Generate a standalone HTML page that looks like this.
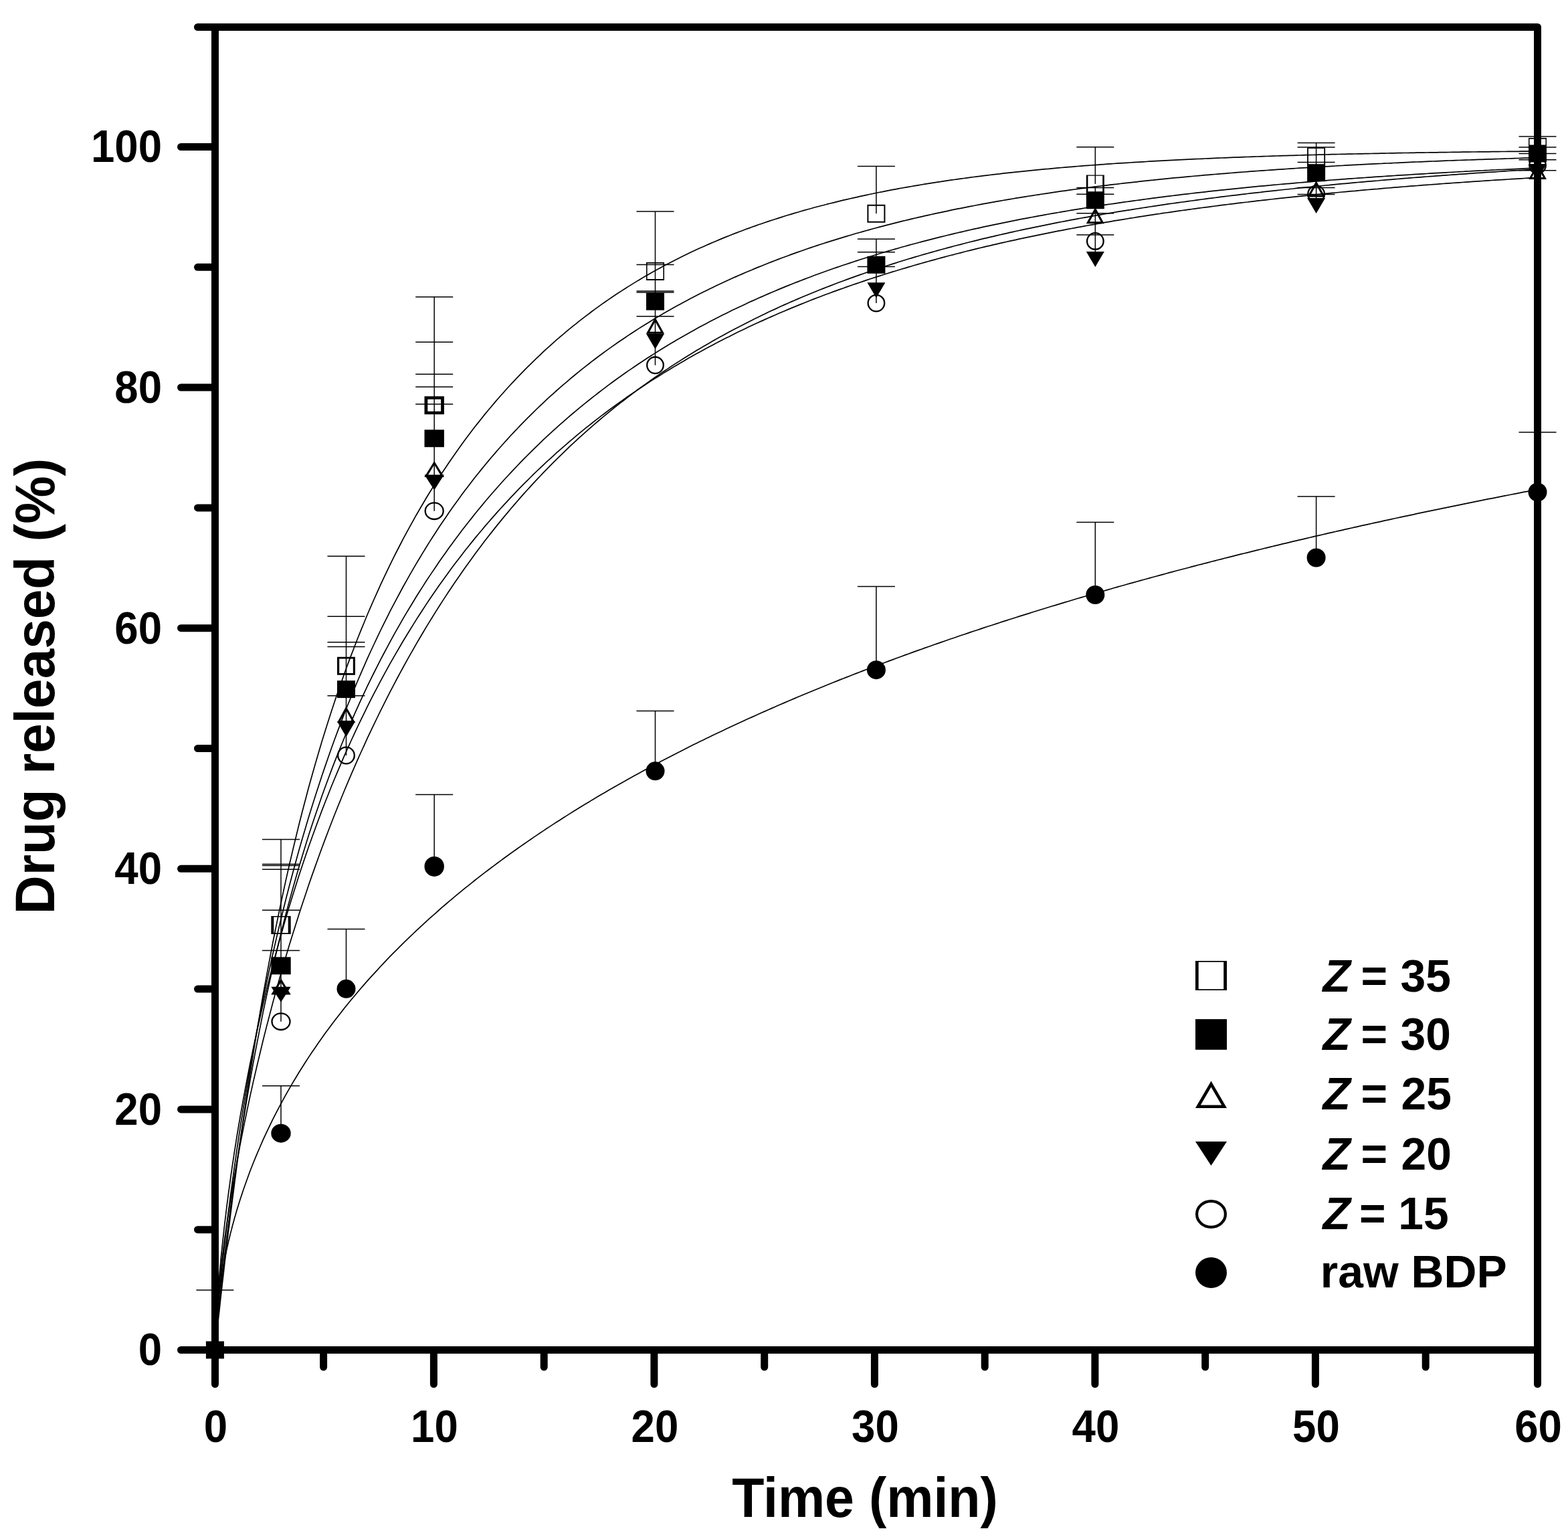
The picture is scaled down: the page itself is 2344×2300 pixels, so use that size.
<!DOCTYPE html>
<html><head><meta charset="utf-8"><style>html,body{margin:0;padding:0;background:#fff}svg{display:block}</style></head>
<body>
<svg width="2344" height="2300" viewBox="0 0 2344 2300">
<rect width="2344" height="2300" fill="#fff"/>
<g fill="none" stroke="#000" stroke-width="1.70" stroke-linejoin="round">
<path d="M322.1,2011.5 L322.9,2003.9 L323.7,1996.2 L324.5,1988.6 L325.4,1981.0 L326.2,1973.4 L327.0,1965.9 L327.9,1958.4 L328.7,1950.9 L329.5,1943.5 L330.3,1936.1 L331.2,1928.7 L332.0,1921.4 L332.8,1914.2 L333.7,1906.9 L334.5,1899.8 L335.3,1892.6 L336.1,1885.5 L337.0,1878.5 L337.8,1871.5 L338.6,1864.5 L339.4,1857.6 L340.3,1850.7 L341.1,1843.9 L341.9,1837.1 L342.8,1830.3 L343.6,1823.6 L344.4,1816.9 L345.2,1810.3 L346.1,1803.7 L346.9,1797.2 L347.7,1790.7 L348.6,1784.2 L349.4,1777.8 L350.2,1771.4 L351.0,1765.0 L351.9,1758.7 L352.7,1752.4 L353.5,1746.2 L354.3,1740.0 L359.2,1704.3 L364.1,1669.9 L369.0,1636.6 L373.8,1604.6 L378.7,1573.6 L383.6,1543.7 L388.5,1514.9 L393.3,1486.9 L398.2,1459.9 L403.1,1433.8 L407.9,1408.5 L412.8,1384.1 L417.7,1360.4 L422.6,1337.4 L427.4,1315.1 L432.3,1293.5 L437.2,1272.6 L442.1,1252.2 L446.9,1232.5 L451.8,1213.3 L456.7,1194.7 L461.5,1176.5 L466.4,1158.9 L471.3,1141.7 L476.2,1125.0 L481.0,1108.8 L485.9,1092.9 L490.8,1077.5 L495.6,1062.4 L500.5,1047.7 L505.4,1033.4 L510.3,1019.4 L515.1,1005.8 L520.0,992.4 L524.9,979.4 L529.8,966.7 L534.6,954.2 L539.5,942.1 L544.4,930.2 L549.2,918.5 L554.1,907.1 L559.0,896.0 L563.9,885.1 L568.7,874.4 L573.6,863.9 L578.5,853.6 L583.3,843.6 L588.2,833.7 L593.1,824.0 L598.0,814.5 L602.8,805.2 L607.7,796.1 L612.6,787.2 L617.5,778.4 L622.3,769.7 L627.2,761.3 L632.1,753.0 L636.9,744.8 L641.8,736.8 L646.7,728.9 L651.6,721.1 L656.4,713.5 L661.3,706.0 L666.2,698.7 L671.0,691.5 L675.9,684.4 L680.8,677.4 L685.7,670.5 L690.5,663.7 L695.4,657.1 L700.3,650.6 L705.2,644.1 L710.0,637.8 L714.9,631.6 L719.8,625.5 L724.6,619.4 L729.5,613.5 L734.4,607.7 L739.3,601.9 L744.1,596.3 L749.0,590.7 L753.9,585.2 L758.8,579.8 L763.6,574.5 L768.5,569.3 L773.4,564.2 L778.2,559.1 L783.1,554.1 L788.0,549.2 L792.9,544.3 L797.7,539.6 L802.6,534.9 L807.5,530.3 L812.3,525.7 L817.2,521.2 L822.1,516.8 L827.0,512.4 L831.8,508.2 L836.7,503.9 L841.6,499.8 L846.5,495.7 L851.3,491.7 L856.2,487.7 L861.1,483.8 L865.9,479.9 L870.8,476.1 L875.7,472.4 L880.6,468.7 L885.4,465.0 L890.3,461.4 L895.2,457.9 L900.0,454.4 L904.9,451.0 L909.8,447.6 L914.7,444.3 L919.5,441.0 L924.4,437.8 L929.3,434.6 L934.2,431.5 L939.0,428.4 L943.9,425.4 L948.8,422.4 L953.6,419.4 L958.5,416.5 L963.4,413.6 L968.3,410.8 L973.1,408.0 L978.0,405.3 L982.9,402.6 L987.7,399.9 L992.6,397.3 L997.5,394.7 L1002.4,392.2 L1007.2,389.7 L1012.1,387.2 L1017.0,384.7 L1021.9,382.3 L1026.7,380.0 L1031.6,377.6 L1036.5,375.3 L1041.3,373.1 L1046.2,370.8 L1051.1,368.7 L1056.0,366.5 L1060.8,364.4 L1065.7,362.2 L1070.6,360.2 L1075.5,358.1 L1080.3,356.1 L1085.2,354.1 L1090.1,352.2 L1094.9,350.3 L1099.8,348.4 L1104.7,346.5 L1109.6,344.7 L1114.4,342.8 L1119.3,341.1 L1124.2,339.3 L1129.0,337.6 L1133.9,335.8 L1138.8,334.2 L1143.7,332.5 L1148.5,330.9 L1153.4,329.3 L1158.3,327.7 L1163.2,326.1 L1168.0,324.6 L1172.9,323.0 L1177.8,321.5 L1182.6,320.1 L1187.5,318.6 L1192.4,317.2 L1197.3,315.8 L1202.1,314.4 L1207.0,313.0 L1211.9,311.7 L1216.7,310.3 L1221.6,309.0 L1226.5,307.7 L1231.4,306.5 L1236.2,305.2 L1241.1,304.0 L1246.0,302.8 L1250.9,301.6 L1255.7,300.4 L1260.6,299.2 L1265.5,298.1 L1270.3,297.0 L1275.2,295.9 L1280.1,294.8 L1285.0,293.7 L1289.8,292.6 L1294.7,291.6 L1299.6,290.5 L1304.4,289.5 L1309.3,288.5 L1314.2,287.5 L1319.1,286.6 L1323.9,285.6 L1328.8,284.7 L1333.7,283.7 L1338.6,282.8 L1343.4,281.9 L1348.3,281.0 L1353.2,280.2 L1358.0,279.3 L1362.9,278.5 L1367.8,277.6 L1372.7,276.8 L1377.5,276.0 L1382.4,275.2 L1387.3,274.4 L1392.2,273.6 L1397.0,272.9 L1401.9,272.1 L1406.8,271.4 L1411.6,270.6 L1416.5,269.9 L1421.4,269.2 L1426.3,268.5 L1431.1,267.8 L1436.0,267.2 L1440.9,266.5 L1445.7,265.8 L1450.6,265.2 L1455.5,264.5 L1460.4,263.9 L1465.2,263.3 L1470.1,262.7 L1475.0,262.1 L1479.9,261.5 L1484.7,260.9 L1489.6,260.3 L1494.5,259.8 L1499.3,259.2 L1504.2,258.7 L1509.1,258.1 L1514.0,257.6 L1518.8,257.1 L1523.7,256.6 L1528.6,256.1 L1533.4,255.6 L1538.3,255.1 L1543.2,254.6 L1548.1,254.1 L1552.9,253.6 L1557.8,253.2 L1562.7,252.7 L1567.6,252.3 L1572.4,251.8 L1577.3,251.4 L1582.2,250.9 L1587.0,250.5 L1591.9,250.1 L1596.8,249.7 L1601.7,249.3 L1606.5,248.9 L1611.4,248.5 L1616.3,248.1 L1621.1,247.7 L1626.0,247.4 L1630.9,247.0 L1635.8,246.6 L1640.6,246.3 L1645.5,245.9 L1650.4,245.6 L1655.3,245.2 L1660.1,244.9 L1665.0,244.5 L1669.9,244.2 L1674.7,243.9 L1679.6,243.6 L1684.5,243.3 L1689.4,243.0 L1694.2,242.7 L1699.1,242.4 L1704.0,242.1 L1708.9,241.8 L1713.7,241.5 L1718.6,241.2 L1723.5,240.9 L1728.3,240.7 L1733.2,240.4 L1738.1,240.1 L1743.0,239.9 L1747.8,239.6 L1752.7,239.4 L1757.6,239.1 L1762.4,238.9 L1767.3,238.6 L1772.2,238.4 L1777.1,238.2 L1781.9,237.9 L1786.8,237.7 L1791.7,237.5 L1796.6,237.3 L1801.4,237.0 L1806.3,236.8 L1811.2,236.6 L1816.0,236.4 L1820.9,236.2 L1825.8,236.0 L1830.7,235.8 L1835.5,235.6 L1840.4,235.4 L1845.3,235.2 L1850.1,235.1 L1855.0,234.9 L1859.9,234.7 L1864.8,234.5 L1869.6,234.3 L1874.5,234.2 L1879.4,234.0 L1884.3,233.8 L1889.1,233.7 L1894.0,233.5 L1898.9,233.3 L1903.7,233.2 L1908.6,233.0 L1913.5,232.9 L1918.4,232.7 L1923.2,232.6 L1928.1,232.4 L1933.0,232.3 L1937.8,232.2 L1942.7,232.0 L1947.6,231.9 L1952.5,231.7 L1957.3,231.6 L1962.2,231.5 L1967.1,231.4 L1972.0,231.2 L1976.8,231.1 L1981.7,231.0 L1986.6,230.9 L1991.4,230.7 L1996.3,230.6 L2001.2,230.5 L2006.1,230.4 L2010.9,230.3 L2015.8,230.2 L2020.7,230.1 L2025.6,230.0 L2030.4,229.9 L2035.3,229.8 L2040.2,229.7 L2045.0,229.6 L2049.9,229.5 L2054.8,229.4 L2059.7,229.3 L2064.5,229.2 L2069.4,229.1 L2074.3,229.0 L2079.1,228.9 L2084.0,228.8 L2088.9,228.7 L2093.8,228.6 L2098.6,228.5 L2103.5,228.5 L2108.4,228.4 L2113.3,228.3 L2118.1,228.2 L2123.0,228.1 L2127.9,228.1 L2132.7,228.0 L2137.6,227.9 L2142.5,227.8 L2147.4,227.8 L2152.2,227.7 L2157.1,227.6 L2162.0,227.6 L2166.8,227.5 L2171.7,227.4 L2176.6,227.4 L2181.5,227.3 L2186.3,227.2 L2191.2,227.2 L2196.1,227.1 L2201.0,227.0 L2205.8,227.0 L2210.7,226.9 L2215.6,226.9 L2220.4,226.8 L2225.3,226.8 L2230.2,226.7 L2235.1,226.6 L2239.9,226.6 L2244.8,226.5 L2249.7,226.5 L2254.5,226.4 L2259.4,226.4 L2264.3,226.3 L2269.2,226.3 L2274.0,226.2 L2278.9,226.2 L2283.8,226.1 L2288.7,226.1 L2293.5,226.0 L2298.4,226.0"/>
<path d="M322.1,2004.7 L322.9,1992.4 L323.7,1981.3 L324.5,1971.0 L325.4,1961.1 L326.2,1951.7 L327.0,1942.6 L327.9,1933.8 L328.7,1925.2 L329.5,1916.8 L330.3,1908.6 L331.2,1900.6 L332.0,1892.7 L332.8,1885.0 L333.7,1877.4 L334.5,1869.9 L335.3,1862.6 L336.1,1855.4 L337.0,1848.2 L337.8,1841.2 L338.6,1834.3 L339.4,1827.5 L340.3,1820.7 L341.1,1814.0 L341.9,1807.5 L342.8,1800.9 L343.6,1794.5 L344.4,1788.2 L345.2,1781.9 L346.1,1775.6 L346.9,1769.5 L347.7,1763.4 L348.6,1757.3 L349.4,1751.4 L350.2,1745.4 L351.0,1739.6 L351.9,1733.8 L352.7,1728.0 L353.5,1722.3 L354.3,1716.6 L359.2,1684.4 L364.1,1653.6 L369.0,1624.1 L373.8,1595.9 L378.7,1568.8 L383.6,1542.8 L388.5,1517.6 L393.3,1493.3 L398.2,1469.9 L403.1,1447.2 L407.9,1425.2 L412.8,1403.9 L417.7,1383.2 L422.6,1363.2 L427.4,1343.7 L432.3,1324.7 L437.2,1306.3 L442.1,1288.3 L446.9,1270.8 L451.8,1253.8 L456.7,1237.2 L461.5,1221.0 L466.4,1205.2 L471.3,1189.7 L476.2,1174.7 L481.0,1159.9 L485.9,1145.6 L490.8,1131.5 L495.6,1117.7 L500.5,1104.3 L505.4,1091.1 L510.3,1078.2 L515.1,1065.6 L520.0,1053.3 L524.9,1041.2 L529.8,1029.3 L534.6,1017.7 L539.5,1006.3 L544.4,995.2 L549.2,984.2 L554.1,973.5 L559.0,963.0 L563.9,952.7 L568.7,942.5 L573.6,932.6 L578.5,922.8 L583.3,913.2 L588.2,903.8 L593.1,894.6 L598.0,885.5 L602.8,876.5 L607.7,867.8 L612.6,859.2 L617.5,850.7 L622.3,842.4 L627.2,834.2 L632.1,826.1 L636.9,818.2 L641.8,810.4 L646.7,802.8 L651.6,795.2 L656.4,787.8 L661.3,780.5 L666.2,773.4 L671.0,766.3 L675.9,759.3 L680.8,752.5 L685.7,745.8 L690.5,739.1 L695.4,732.6 L700.3,726.2 L705.2,719.8 L710.0,713.6 L714.9,707.5 L719.8,701.4 L724.6,695.5 L729.5,689.6 L734.4,683.8 L739.3,678.1 L744.1,672.5 L749.0,667.0 L753.9,661.5 L758.8,656.1 L763.6,650.8 L768.5,645.6 L773.4,640.5 L778.2,635.4 L783.1,630.4 L788.0,625.4 L792.9,620.6 L797.7,615.8 L802.6,611.0 L807.5,606.4 L812.3,601.8 L817.2,597.2 L822.1,592.7 L827.0,588.3 L831.8,584.0 L836.7,579.7 L841.6,575.4 L846.5,571.3 L851.3,567.1 L856.2,563.0 L861.1,559.0 L865.9,555.1 L870.8,551.1 L875.7,547.3 L880.6,543.5 L885.4,539.7 L890.3,536.0 L895.2,532.3 L900.0,528.7 L904.9,525.1 L909.8,521.6 L914.7,518.1 L919.5,514.7 L924.4,511.3 L929.3,508.0 L934.2,504.7 L939.0,501.4 L943.9,498.2 L948.8,495.0 L953.6,491.9 L958.5,488.8 L963.4,485.7 L968.3,482.7 L973.1,479.7 L978.0,476.7 L982.9,473.8 L987.7,470.9 L992.6,468.1 L997.5,465.3 L1002.4,462.5 L1007.2,459.8 L1012.1,457.1 L1017.0,454.4 L1021.9,451.8 L1026.7,449.2 L1031.6,446.6 L1036.5,444.0 L1041.3,441.5 L1046.2,439.1 L1051.1,436.6 L1056.0,434.2 L1060.8,431.8 L1065.7,429.4 L1070.6,427.1 L1075.5,424.8 L1080.3,422.5 L1085.2,420.2 L1090.1,418.0 L1094.9,415.8 L1099.8,413.6 L1104.7,411.5 L1109.6,409.4 L1114.4,407.3 L1119.3,405.2 L1124.2,403.2 L1129.0,401.1 L1133.9,399.1 L1138.8,397.2 L1143.7,395.2 L1148.5,393.3 L1153.4,391.4 L1158.3,389.5 L1163.2,387.6 L1168.0,385.8 L1172.9,384.0 L1177.8,382.2 L1182.6,380.4 L1187.5,378.6 L1192.4,376.9 L1197.3,375.2 L1202.1,373.5 L1207.0,371.8 L1211.9,370.1 L1216.7,368.5 L1221.6,366.9 L1226.5,365.3 L1231.4,363.7 L1236.2,362.1 L1241.1,360.6 L1246.0,359.1 L1250.9,357.6 L1255.7,356.1 L1260.6,354.6 L1265.5,353.1 L1270.3,351.7 L1275.2,350.3 L1280.1,348.8 L1285.0,347.5 L1289.8,346.1 L1294.7,344.7 L1299.6,343.4 L1304.4,342.0 L1309.3,340.7 L1314.2,339.4 L1319.1,338.1 L1323.9,336.9 L1328.8,335.6 L1333.7,334.4 L1338.6,333.1 L1343.4,331.9 L1348.3,330.7 L1353.2,329.5 L1358.0,328.4 L1362.9,327.2 L1367.8,326.0 L1372.7,324.9 L1377.5,323.8 L1382.4,322.7 L1387.3,321.6 L1392.2,320.5 L1397.0,319.4 L1401.9,318.4 L1406.8,317.3 L1411.6,316.3 L1416.5,315.3 L1421.4,314.2 L1426.3,313.2 L1431.1,312.2 L1436.0,311.3 L1440.9,310.3 L1445.7,309.3 L1450.6,308.4 L1455.5,307.5 L1460.4,306.5 L1465.2,305.6 L1470.1,304.7 L1475.0,303.8 L1479.9,302.9 L1484.7,302.1 L1489.6,301.2 L1494.5,300.3 L1499.3,299.5 L1504.2,298.6 L1509.1,297.8 L1514.0,297.0 L1518.8,296.2 L1523.7,295.4 L1528.6,294.6 L1533.4,293.8 L1538.3,293.0 L1543.2,292.3 L1548.1,291.5 L1552.9,290.8 L1557.8,290.0 L1562.7,289.3 L1567.6,288.6 L1572.4,287.8 L1577.3,287.1 L1582.2,286.4 L1587.0,285.7 L1591.9,285.1 L1596.8,284.4 L1601.7,283.7 L1606.5,283.0 L1611.4,282.4 L1616.3,281.7 L1621.1,281.1 L1626.0,280.5 L1630.9,279.8 L1635.8,279.2 L1640.6,278.6 L1645.5,278.0 L1650.4,277.4 L1655.3,276.8 L1660.1,276.2 L1665.0,275.6 L1669.9,275.1 L1674.7,274.5 L1679.6,273.9 L1684.5,273.4 L1689.4,272.8 L1694.2,272.3 L1699.1,271.8 L1704.0,271.2 L1708.9,270.7 L1713.7,270.2 L1718.6,269.7 L1723.5,269.2 L1728.3,268.6 L1733.2,268.2 L1738.1,267.7 L1743.0,267.2 L1747.8,266.7 L1752.7,266.2 L1757.6,265.7 L1762.4,265.3 L1767.3,264.8 L1772.2,264.4 L1777.1,263.9 L1781.9,263.5 L1786.8,263.0 L1791.7,262.6 L1796.6,262.2 L1801.4,261.7 L1806.3,261.3 L1811.2,260.9 L1816.0,260.5 L1820.9,260.1 L1825.8,259.7 L1830.7,259.3 L1835.5,258.9 L1840.4,258.5 L1845.3,258.1 L1850.1,257.7 L1855.0,257.3 L1859.9,257.0 L1864.8,256.6 L1869.6,256.2 L1874.5,255.9 L1879.4,255.5 L1884.3,255.2 L1889.1,254.8 L1894.0,254.5 L1898.9,254.1 L1903.7,253.8 L1908.6,253.4 L1913.5,253.1 L1918.4,252.8 L1923.2,252.5 L1928.1,252.1 L1933.0,251.8 L1937.8,251.5 L1942.7,251.2 L1947.6,250.9 L1952.5,250.6 L1957.3,250.3 L1962.2,250.0 L1967.1,249.7 L1972.0,249.4 L1976.8,249.1 L1981.7,248.8 L1986.6,248.6 L1991.4,248.3 L1996.3,248.0 L2001.2,247.7 L2006.1,247.5 L2010.9,247.2 L2015.8,246.9 L2020.7,246.7 L2025.6,246.4 L2030.4,246.2 L2035.3,245.9 L2040.2,245.7 L2045.0,245.4 L2049.9,245.2 L2054.8,244.9 L2059.7,244.7 L2064.5,244.5 L2069.4,244.2 L2074.3,244.0 L2079.1,243.8 L2084.0,243.5 L2088.9,243.3 L2093.8,243.1 L2098.6,242.9 L2103.5,242.7 L2108.4,242.4 L2113.3,242.2 L2118.1,242.0 L2123.0,241.8 L2127.9,241.6 L2132.7,241.4 L2137.6,241.2 L2142.5,241.0 L2147.4,240.8 L2152.2,240.6 L2157.1,240.4 L2162.0,240.2 L2166.8,240.0 L2171.7,239.9 L2176.6,239.7 L2181.5,239.5 L2186.3,239.3 L2191.2,239.1 L2196.1,239.0 L2201.0,238.8 L2205.8,238.6 L2210.7,238.4 L2215.6,238.3 L2220.4,238.1 L2225.3,237.9 L2230.2,237.8 L2235.1,237.6 L2239.9,237.5 L2244.8,237.3 L2249.7,237.1 L2254.5,237.0 L2259.4,236.8 L2264.3,236.7 L2269.2,236.5 L2274.0,236.4 L2278.9,236.2 L2283.8,236.1 L2288.7,236.0 L2293.5,235.8 L2298.4,235.7"/>
<path d="M322.1,2008.2 L322.9,1998.4 L323.7,1989.1 L324.5,1980.2 L325.4,1971.6 L326.2,1963.2 L327.0,1955.0 L327.9,1946.9 L328.7,1939.0 L329.5,1931.3 L330.3,1923.6 L331.2,1916.1 L332.0,1908.7 L332.8,1901.4 L333.7,1894.1 L334.5,1887.0 L335.3,1879.9 L336.1,1872.9 L337.0,1866.0 L337.8,1859.2 L338.6,1852.5 L339.4,1845.8 L340.3,1839.2 L341.1,1832.7 L341.9,1826.2 L342.8,1819.8 L343.6,1813.4 L344.4,1807.1 L345.2,1800.9 L346.1,1794.7 L346.9,1788.6 L347.7,1782.6 L348.6,1776.6 L349.4,1770.6 L350.2,1764.7 L351.0,1758.9 L351.9,1753.1 L352.7,1747.3 L353.5,1741.6 L354.3,1736.0 L359.2,1703.6 L364.1,1672.8 L369.0,1643.2 L373.8,1615.0 L378.7,1587.9 L383.6,1561.8 L388.5,1536.8 L393.3,1512.7 L398.2,1489.5 L403.1,1467.1 L407.9,1445.5 L412.8,1424.6 L417.7,1404.4 L422.6,1384.8 L427.4,1365.9 L432.3,1347.6 L437.2,1329.8 L442.1,1312.5 L446.9,1295.7 L451.8,1279.4 L456.7,1263.6 L461.5,1248.1 L466.4,1233.1 L471.3,1218.5 L476.2,1204.2 L481.0,1190.3 L485.9,1176.8 L490.8,1163.5 L495.6,1150.6 L500.5,1137.9 L505.4,1125.6 L510.3,1113.5 L515.1,1101.7 L520.0,1090.1 L524.9,1078.8 L529.8,1067.7 L534.6,1056.8 L539.5,1046.1 L544.4,1035.7 L549.2,1025.4 L554.1,1015.4 L559.0,1005.5 L563.9,995.8 L568.7,986.3 L573.6,977.0 L578.5,967.8 L583.3,958.8 L588.2,949.9 L593.1,941.2 L598.0,932.6 L602.8,924.2 L607.7,915.9 L612.6,907.7 L617.5,899.7 L622.3,891.8 L627.2,884.0 L632.1,876.4 L636.9,868.8 L641.8,861.4 L646.7,854.1 L651.6,846.9 L656.4,839.8 L661.3,832.8 L666.2,825.9 L671.0,819.1 L675.9,812.4 L680.8,805.8 L685.7,799.3 L690.5,792.8 L695.4,786.5 L700.3,780.3 L705.2,774.1 L710.0,768.0 L714.9,762.0 L719.8,756.1 L724.6,750.3 L729.5,744.5 L734.4,738.8 L739.3,733.2 L744.1,727.7 L749.0,722.2 L753.9,716.8 L758.8,711.5 L763.6,706.3 L768.5,701.1 L773.4,696.0 L778.2,690.9 L783.1,685.9 L788.0,681.0 L792.9,676.1 L797.7,671.3 L802.6,666.6 L807.5,661.9 L812.3,657.2 L817.2,652.7 L822.1,648.1 L827.0,643.7 L831.8,639.3 L836.7,634.9 L841.6,630.6 L846.5,626.3 L851.3,622.1 L856.2,618.0 L861.1,613.9 L865.9,609.8 L870.8,605.8 L875.7,601.9 L880.6,598.0 L885.4,594.1 L890.3,590.3 L895.2,586.5 L900.0,582.8 L904.9,579.1 L909.8,575.4 L914.7,571.8 L919.5,568.3 L924.4,564.7 L929.3,561.3 L934.2,557.8 L939.0,554.4 L943.9,551.1 L948.8,547.7 L953.6,544.5 L958.5,541.2 L963.4,538.0 L968.3,534.8 L973.1,531.7 L978.0,528.6 L982.9,525.5 L987.7,522.5 L992.6,519.5 L997.5,516.5 L1002.4,513.6 L1007.2,510.7 L1012.1,507.8 L1017.0,505.0 L1021.9,502.2 L1026.7,499.4 L1031.6,496.7 L1036.5,493.9 L1041.3,491.3 L1046.2,488.6 L1051.1,486.0 L1056.0,483.4 L1060.8,480.8 L1065.7,478.3 L1070.6,475.8 L1075.5,473.3 L1080.3,470.8 L1085.2,468.4 L1090.1,466.0 L1094.9,463.6 L1099.8,461.3 L1104.7,459.0 L1109.6,456.7 L1114.4,454.4 L1119.3,452.1 L1124.2,449.9 L1129.0,447.7 L1133.9,445.5 L1138.8,443.4 L1143.7,441.2 L1148.5,439.1 L1153.4,437.0 L1158.3,435.0 L1163.2,432.9 L1168.0,430.9 L1172.9,428.9 L1177.8,426.9 L1182.6,425.0 L1187.5,423.0 L1192.4,421.1 L1197.3,419.2 L1202.1,417.4 L1207.0,415.5 L1211.9,413.7 L1216.7,411.8 L1221.6,410.0 L1226.5,408.3 L1231.4,406.5 L1236.2,404.8 L1241.1,403.0 L1246.0,401.3 L1250.9,399.6 L1255.7,398.0 L1260.6,396.3 L1265.5,394.7 L1270.3,393.1 L1275.2,391.5 L1280.1,389.9 L1285.0,388.3 L1289.8,386.8 L1294.7,385.2 L1299.6,383.7 L1304.4,382.2 L1309.3,380.7 L1314.2,379.2 L1319.1,377.8 L1323.9,376.3 L1328.8,374.9 L1333.7,373.5 L1338.6,372.1 L1343.4,370.7 L1348.3,369.3 L1353.2,368.0 L1358.0,366.6 L1362.9,365.3 L1367.8,364.0 L1372.7,362.7 L1377.5,361.4 L1382.4,360.1 L1387.3,358.9 L1392.2,357.6 L1397.0,356.4 L1401.9,355.1 L1406.8,353.9 L1411.6,352.7 L1416.5,351.5 L1421.4,350.4 L1426.3,349.2 L1431.1,348.0 L1436.0,346.9 L1440.9,345.8 L1445.7,344.6 L1450.6,343.5 L1455.5,342.4 L1460.4,341.4 L1465.2,340.3 L1470.1,339.2 L1475.0,338.2 L1479.9,337.1 L1484.7,336.1 L1489.6,335.1 L1494.5,334.1 L1499.3,333.1 L1504.2,332.1 L1509.1,331.1 L1514.0,330.1 L1518.8,329.1 L1523.7,328.2 L1528.6,327.2 L1533.4,326.3 L1538.3,325.4 L1543.2,324.5 L1548.1,323.6 L1552.9,322.7 L1557.8,321.8 L1562.7,320.9 L1567.6,320.0 L1572.4,319.2 L1577.3,318.3 L1582.2,317.5 L1587.0,316.6 L1591.9,315.8 L1596.8,315.0 L1601.7,314.2 L1606.5,313.4 L1611.4,312.6 L1616.3,311.8 L1621.1,311.0 L1626.0,310.2 L1630.9,309.4 L1635.8,308.7 L1640.6,307.9 L1645.5,307.2 L1650.4,306.4 L1655.3,305.7 L1660.1,305.0 L1665.0,304.3 L1669.9,303.6 L1674.7,302.9 L1679.6,302.2 L1684.5,301.5 L1689.4,300.8 L1694.2,300.1 L1699.1,299.5 L1704.0,298.8 L1708.9,298.1 L1713.7,297.5 L1718.6,296.8 L1723.5,296.2 L1728.3,295.6 L1733.2,294.9 L1738.1,294.3 L1743.0,293.7 L1747.8,293.1 L1752.7,292.5 L1757.6,291.9 L1762.4,291.3 L1767.3,290.7 L1772.2,290.1 L1777.1,289.6 L1781.9,289.0 L1786.8,288.4 L1791.7,287.9 L1796.6,287.3 L1801.4,286.8 L1806.3,286.2 L1811.2,285.7 L1816.0,285.2 L1820.9,284.7 L1825.8,284.1 L1830.7,283.6 L1835.5,283.1 L1840.4,282.6 L1845.3,282.1 L1850.1,281.6 L1855.0,281.1 L1859.9,280.6 L1864.8,280.1 L1869.6,279.7 L1874.5,279.2 L1879.4,278.7 L1884.3,278.2 L1889.1,277.8 L1894.0,277.3 L1898.9,276.9 L1903.7,276.4 L1908.6,276.0 L1913.5,275.5 L1918.4,275.1 L1923.2,274.7 L1928.1,274.3 L1933.0,273.8 L1937.8,273.4 L1942.7,273.0 L1947.6,272.6 L1952.5,272.2 L1957.3,271.8 L1962.2,271.4 L1967.1,271.0 L1972.0,270.6 L1976.8,270.2 L1981.7,269.8 L1986.6,269.4 L1991.4,269.0 L1996.3,268.7 L2001.2,268.3 L2006.1,267.9 L2010.9,267.6 L2015.8,267.2 L2020.7,266.9 L2025.6,266.5 L2030.4,266.1 L2035.3,265.8 L2040.2,265.5 L2045.0,265.1 L2049.9,264.8 L2054.8,264.4 L2059.7,264.1 L2064.5,263.8 L2069.4,263.5 L2074.3,263.1 L2079.1,262.8 L2084.0,262.5 L2088.9,262.2 L2093.8,261.9 L2098.6,261.6 L2103.5,261.3 L2108.4,261.0 L2113.3,260.7 L2118.1,260.4 L2123.0,260.1 L2127.9,259.8 L2132.7,259.5 L2137.6,259.2 L2142.5,258.9 L2147.4,258.6 L2152.2,258.4 L2157.1,258.1 L2162.0,257.8 L2166.8,257.5 L2171.7,257.3 L2176.6,257.0 L2181.5,256.7 L2186.3,256.5 L2191.2,256.2 L2196.1,256.0 L2201.0,255.7 L2205.8,255.4 L2210.7,255.2 L2215.6,255.0 L2220.4,254.7 L2225.3,254.5 L2230.2,254.2 L2235.1,254.0 L2239.9,253.7 L2244.8,253.5 L2249.7,253.3 L2254.5,253.1 L2259.4,252.8 L2264.3,252.6 L2269.2,252.4 L2274.0,252.2 L2278.9,251.9 L2283.8,251.7 L2288.7,251.5 L2293.5,251.3 L2298.4,251.1"/>
<path d="M322.1,1994.2 L322.9,1976.8 L323.7,1962.4 L324.5,1949.7 L325.4,1938.1 L326.2,1927.2 L327.0,1917.0 L327.9,1907.3 L328.7,1898.0 L329.5,1889.1 L330.3,1880.5 L331.2,1872.2 L332.0,1864.1 L332.8,1856.3 L333.7,1848.6 L334.5,1841.2 L335.3,1833.9 L336.1,1826.8 L337.0,1819.8 L337.8,1813.0 L338.6,1806.3 L339.4,1799.7 L340.3,1793.3 L341.1,1786.9 L341.9,1780.7 L342.8,1774.6 L343.6,1768.5 L344.4,1762.6 L345.2,1756.7 L346.1,1750.9 L346.9,1745.2 L347.7,1739.6 L348.6,1734.0 L349.4,1728.5 L350.2,1723.1 L351.0,1717.8 L351.9,1712.5 L352.7,1707.3 L353.5,1702.1 L354.3,1697.0 L359.2,1668.0 L364.1,1640.6 L369.0,1614.6 L373.8,1589.9 L378.7,1566.2 L383.6,1543.5 L388.5,1521.7 L393.3,1500.7 L398.2,1480.4 L403.1,1460.8 L407.9,1441.9 L412.8,1423.5 L417.7,1405.7 L422.6,1388.4 L427.4,1371.5 L432.3,1355.2 L437.2,1339.2 L442.1,1323.7 L446.9,1308.5 L451.8,1293.8 L456.7,1279.3 L461.5,1265.2 L466.4,1251.5 L471.3,1238.0 L476.2,1224.8 L481.0,1211.9 L485.9,1199.3 L490.8,1187.0 L495.6,1174.8 L500.5,1163.0 L505.4,1151.3 L510.3,1139.9 L515.1,1128.7 L520.0,1117.8 L524.9,1107.0 L529.8,1096.4 L534.6,1086.0 L539.5,1075.8 L544.4,1065.8 L549.2,1055.9 L554.1,1046.2 L559.0,1036.7 L563.9,1027.4 L568.7,1018.2 L573.6,1009.1 L578.5,1000.2 L583.3,991.4 L588.2,982.8 L593.1,974.3 L598.0,966.0 L602.8,957.8 L607.7,949.7 L612.6,941.7 L617.5,933.9 L622.3,926.1 L627.2,918.5 L632.1,911.0 L636.9,903.6 L641.8,896.3 L646.7,889.1 L651.6,882.1 L656.4,875.1 L661.3,868.2 L666.2,861.4 L671.0,854.7 L675.9,848.1 L680.8,841.6 L685.7,835.2 L690.5,828.9 L695.4,822.6 L700.3,816.5 L705.2,810.4 L710.0,804.4 L714.9,798.5 L719.8,792.7 L724.6,786.9 L729.5,781.2 L734.4,775.6 L739.3,770.1 L744.1,764.6 L749.0,759.2 L753.9,753.9 L758.8,748.6 L763.6,743.4 L768.5,738.3 L773.4,733.2 L778.2,728.2 L783.1,723.2 L788.0,718.3 L792.9,713.5 L797.7,708.7 L802.6,704.0 L807.5,699.4 L812.3,694.8 L817.2,690.2 L822.1,685.8 L827.0,681.3 L831.8,676.9 L836.7,672.6 L841.6,668.3 L846.5,664.1 L851.3,659.9 L856.2,655.8 L861.1,651.7 L865.9,647.7 L870.8,643.7 L875.7,639.7 L880.6,635.8 L885.4,632.0 L890.3,628.2 L895.2,624.4 L900.0,620.7 L904.9,617.0 L909.8,613.3 L914.7,609.7 L919.5,606.2 L924.4,602.6 L929.3,599.2 L934.2,595.7 L939.0,592.3 L943.9,588.9 L948.8,585.6 L953.6,582.3 L958.5,579.0 L963.4,575.8 L968.3,572.6 L973.1,569.4 L978.0,566.3 L982.9,563.2 L987.7,560.2 L992.6,557.1 L997.5,554.2 L1002.4,551.2 L1007.2,548.3 L1012.1,545.4 L1017.0,542.5 L1021.9,539.7 L1026.7,536.8 L1031.6,534.1 L1036.5,531.3 L1041.3,528.6 L1046.2,525.9 L1051.1,523.2 L1056.0,520.6 L1060.8,518.0 L1065.7,515.4 L1070.6,512.8 L1075.5,510.3 L1080.3,507.8 L1085.2,505.3 L1090.1,502.9 L1094.9,500.4 L1099.8,498.0 L1104.7,495.6 L1109.6,493.3 L1114.4,490.9 L1119.3,488.6 L1124.2,486.3 L1129.0,484.1 L1133.9,481.8 L1138.8,479.6 L1143.7,477.4 L1148.5,475.2 L1153.4,473.1 L1158.3,471.0 L1163.2,468.8 L1168.0,466.7 L1172.9,464.7 L1177.8,462.6 L1182.6,460.6 L1187.5,458.6 L1192.4,456.6 L1197.3,454.6 L1202.1,452.7 L1207.0,450.7 L1211.9,448.8 L1216.7,446.9 L1221.6,445.0 L1226.5,443.2 L1231.4,441.3 L1236.2,439.5 L1241.1,437.7 L1246.0,435.9 L1250.9,434.1 L1255.7,432.4 L1260.6,430.7 L1265.5,428.9 L1270.3,427.2 L1275.2,425.5 L1280.1,423.9 L1285.0,422.2 L1289.8,420.6 L1294.7,418.9 L1299.6,417.3 L1304.4,415.7 L1309.3,414.1 L1314.2,412.6 L1319.1,411.0 L1323.9,409.5 L1328.8,408.0 L1333.7,406.4 L1338.6,405.0 L1343.4,403.5 L1348.3,402.0 L1353.2,400.6 L1358.0,399.1 L1362.9,397.7 L1367.8,396.3 L1372.7,394.9 L1377.5,393.5 L1382.4,392.1 L1387.3,390.7 L1392.2,389.4 L1397.0,388.1 L1401.9,386.7 L1406.8,385.4 L1411.6,384.1 L1416.5,382.8 L1421.4,381.5 L1426.3,380.3 L1431.1,379.0 L1436.0,377.8 L1440.9,376.5 L1445.7,375.3 L1450.6,374.1 L1455.5,372.9 L1460.4,371.7 L1465.2,370.5 L1470.1,369.4 L1475.0,368.2 L1479.9,367.1 L1484.7,365.9 L1489.6,364.8 L1494.5,363.7 L1499.3,362.6 L1504.2,361.5 L1509.1,360.4 L1514.0,359.3 L1518.8,358.3 L1523.7,357.2 L1528.6,356.2 L1533.4,355.1 L1538.3,354.1 L1543.2,353.1 L1548.1,352.1 L1552.9,351.1 L1557.8,350.1 L1562.7,349.1 L1567.6,348.1 L1572.4,347.1 L1577.3,346.2 L1582.2,345.2 L1587.0,344.3 L1591.9,343.3 L1596.8,342.4 L1601.7,341.5 L1606.5,340.6 L1611.4,339.7 L1616.3,338.8 L1621.1,337.9 L1626.0,337.0 L1630.9,336.1 L1635.8,335.3 L1640.6,334.4 L1645.5,333.6 L1650.4,332.7 L1655.3,331.9 L1660.1,331.1 L1665.0,330.2 L1669.9,329.4 L1674.7,328.6 L1679.6,327.8 L1684.5,327.0 L1689.4,326.2 L1694.2,325.5 L1699.1,324.7 L1704.0,323.9 L1708.9,323.2 L1713.7,322.4 L1718.6,321.7 L1723.5,320.9 L1728.3,320.2 L1733.2,319.5 L1738.1,318.7 L1743.0,318.0 L1747.8,317.3 L1752.7,316.6 L1757.6,315.9 L1762.4,315.2 L1767.3,314.5 L1772.2,313.9 L1777.1,313.2 L1781.9,312.5 L1786.8,311.9 L1791.7,311.2 L1796.6,310.5 L1801.4,309.9 L1806.3,309.3 L1811.2,308.6 L1816.0,308.0 L1820.9,307.4 L1825.8,306.7 L1830.7,306.1 L1835.5,305.5 L1840.4,304.9 L1845.3,304.3 L1850.1,303.7 L1855.0,303.1 L1859.9,302.5 L1864.8,302.0 L1869.6,301.4 L1874.5,300.8 L1879.4,300.2 L1884.3,299.7 L1889.1,299.1 L1894.0,298.6 L1898.9,298.0 L1903.7,297.5 L1908.6,296.9 L1913.5,296.4 L1918.4,295.9 L1923.2,295.4 L1928.1,294.8 L1933.0,294.3 L1937.8,293.8 L1942.7,293.3 L1947.6,292.8 L1952.5,292.3 L1957.3,291.8 L1962.2,291.3 L1967.1,290.8 L1972.0,290.3 L1976.8,289.9 L1981.7,289.4 L1986.6,288.9 L1991.4,288.4 L1996.3,288.0 L2001.2,287.5 L2006.1,287.0 L2010.9,286.6 L2015.8,286.1 L2020.7,285.7 L2025.6,285.3 L2030.4,284.8 L2035.3,284.4 L2040.2,283.9 L2045.0,283.5 L2049.9,283.1 L2054.8,282.7 L2059.7,282.3 L2064.5,281.8 L2069.4,281.4 L2074.3,281.0 L2079.1,280.6 L2084.0,280.2 L2088.9,279.8 L2093.8,279.4 L2098.6,279.0 L2103.5,278.6 L2108.4,278.2 L2113.3,277.9 L2118.1,277.5 L2123.0,277.1 L2127.9,276.7 L2132.7,276.4 L2137.6,276.0 L2142.5,275.6 L2147.4,275.3 L2152.2,274.9 L2157.1,274.5 L2162.0,274.2 L2166.8,273.8 L2171.7,273.5 L2176.6,273.1 L2181.5,272.8 L2186.3,272.5 L2191.2,272.1 L2196.1,271.8 L2201.0,271.4 L2205.8,271.1 L2210.7,270.8 L2215.6,270.5 L2220.4,270.1 L2225.3,269.8 L2230.2,269.5 L2235.1,269.2 L2239.9,268.9 L2244.8,268.6 L2249.7,268.3 L2254.5,268.0 L2259.4,267.7 L2264.3,267.4 L2269.2,267.1 L2274.0,266.8 L2278.9,266.5 L2283.8,266.2 L2288.7,265.9 L2293.5,265.6 L2298.4,265.3"/>
<path d="M322.1,1994.3 L322.9,1978.8 L323.7,1966.3 L324.5,1955.2 L325.4,1945.2 L326.2,1935.9 L327.0,1927.2 L327.9,1918.8 L328.7,1910.9 L329.5,1903.3 L330.3,1895.9 L331.2,1888.8 L332.0,1881.8 L332.8,1875.1 L333.7,1868.5 L334.5,1862.1 L335.3,1855.9 L336.1,1849.7 L337.0,1843.7 L337.8,1837.8 L338.6,1832.0 L339.4,1826.3 L340.3,1820.7 L341.1,1815.2 L341.9,1809.7 L342.8,1804.4 L343.6,1799.1 L344.4,1793.8 L345.2,1788.7 L346.1,1783.6 L346.9,1778.6 L347.7,1773.6 L348.6,1768.7 L349.4,1763.9 L350.2,1759.1 L351.0,1754.3 L351.9,1749.6 L352.7,1744.9 L353.5,1740.3 L354.3,1735.8 L359.2,1709.7 L364.1,1684.9 L369.0,1661.2 L373.8,1638.4 L378.7,1616.4 L383.6,1595.2 L388.5,1574.7 L393.3,1554.7 L398.2,1535.4 L403.1,1516.6 L407.9,1498.3 L412.8,1480.4 L417.7,1463.0 L422.6,1446.0 L427.4,1429.4 L432.3,1413.1 L437.2,1397.2 L442.1,1381.7 L446.9,1366.4 L451.8,1351.5 L456.7,1336.9 L461.5,1322.5 L466.4,1308.4 L471.3,1294.6 L476.2,1281.0 L481.0,1267.7 L485.9,1254.6 L490.8,1241.8 L495.6,1229.2 L500.5,1216.7 L505.4,1204.5 L510.3,1192.5 L515.1,1180.7 L520.0,1169.1 L524.9,1157.7 L529.8,1146.4 L534.6,1135.4 L539.5,1124.5 L544.4,1113.8 L549.2,1103.2 L554.1,1092.8 L559.0,1082.6 L563.9,1072.5 L568.7,1062.6 L573.6,1052.8 L578.5,1043.1 L583.3,1033.6 L588.2,1024.3 L593.1,1015.0 L598.0,1005.9 L602.8,997.0 L607.7,988.1 L612.6,979.4 L617.5,970.8 L622.3,962.3 L627.2,954.0 L632.1,945.8 L636.9,937.6 L641.8,929.6 L646.7,921.7 L651.6,913.9 L656.4,906.2 L661.3,898.6 L666.2,891.1 L671.0,883.8 L675.9,876.5 L680.8,869.3 L685.7,862.2 L690.5,855.2 L695.4,848.3 L700.3,841.4 L705.2,834.7 L710.0,828.1 L714.9,821.5 L719.8,815.0 L724.6,808.6 L729.5,802.3 L734.4,796.1 L739.3,789.9 L744.1,783.9 L749.0,777.9 L753.9,771.9 L758.8,766.1 L763.6,760.3 L768.5,754.6 L773.4,749.0 L778.2,743.4 L783.1,737.9 L788.0,732.5 L792.9,727.2 L797.7,721.9 L802.6,716.6 L807.5,711.5 L812.3,706.4 L817.2,701.3 L822.1,696.4 L827.0,691.4 L831.8,686.6 L836.7,681.8 L841.6,677.1 L846.5,672.4 L851.3,667.7 L856.2,663.2 L861.1,658.7 L865.9,654.2 L870.8,649.8 L875.7,645.4 L880.6,641.1 L885.4,636.9 L890.3,632.7 L895.2,628.5 L900.0,624.4 L904.9,620.3 L909.8,616.3 L914.7,612.4 L919.5,608.4 L924.4,604.6 L929.3,600.7 L934.2,597.0 L939.0,593.2 L943.9,589.5 L948.8,585.9 L953.6,582.3 L958.5,578.7 L963.4,575.2 L968.3,571.7 L973.1,568.2 L978.0,564.8 L982.9,561.4 L987.7,558.1 L992.6,554.8 L997.5,551.6 L1002.4,548.3 L1007.2,545.1 L1012.1,542.0 L1017.0,538.9 L1021.9,535.8 L1026.7,532.8 L1031.6,529.8 L1036.5,526.8 L1041.3,523.8 L1046.2,520.9 L1051.1,518.0 L1056.0,515.2 L1060.8,512.4 L1065.7,509.6 L1070.6,506.8 L1075.5,504.1 L1080.3,501.4 L1085.2,498.8 L1090.1,496.1 L1094.9,493.5 L1099.8,490.9 L1104.7,488.4 L1109.6,485.9 L1114.4,483.4 L1119.3,480.9 L1124.2,478.5 L1129.0,476.0 L1133.9,473.7 L1138.8,471.3 L1143.7,469.0 L1148.5,466.6 L1153.4,464.3 L1158.3,462.1 L1163.2,459.8 L1168.0,457.6 L1172.9,455.4 L1177.8,453.3 L1182.6,451.1 L1187.5,449.0 L1192.4,446.9 L1197.3,444.8 L1202.1,442.8 L1207.0,440.7 L1211.9,438.7 L1216.7,436.7 L1221.6,434.7 L1226.5,432.8 L1231.4,430.9 L1236.2,429.0 L1241.1,427.1 L1246.0,425.2 L1250.9,423.3 L1255.7,421.5 L1260.6,419.7 L1265.5,417.9 L1270.3,416.1 L1275.2,414.4 L1280.1,412.6 L1285.0,410.9 L1289.8,409.2 L1294.7,407.5 L1299.6,405.8 L1304.4,404.2 L1309.3,402.5 L1314.2,400.9 L1319.1,399.3 L1323.9,397.7 L1328.8,396.2 L1333.7,394.6 L1338.6,393.1 L1343.4,391.5 L1348.3,390.0 L1353.2,388.5 L1358.0,387.0 L1362.9,385.6 L1367.8,384.1 L1372.7,382.7 L1377.5,381.3 L1382.4,379.9 L1387.3,378.5 L1392.2,377.1 L1397.0,375.7 L1401.9,374.4 L1406.8,373.0 L1411.6,371.7 L1416.5,370.4 L1421.4,369.1 L1426.3,367.8 L1431.1,366.5 L1436.0,365.3 L1440.9,364.0 L1445.7,362.8 L1450.6,361.5 L1455.5,360.3 L1460.4,359.1 L1465.2,357.9 L1470.1,356.7 L1475.0,355.6 L1479.9,354.4 L1484.7,353.3 L1489.6,352.1 L1494.5,351.0 L1499.3,349.9 L1504.2,348.8 L1509.1,347.7 L1514.0,346.6 L1518.8,345.5 L1523.7,344.5 L1528.6,343.4 L1533.4,342.4 L1538.3,341.3 L1543.2,340.3 L1548.1,339.3 L1552.9,338.3 L1557.8,337.3 L1562.7,336.3 L1567.6,335.3 L1572.4,334.4 L1577.3,333.4 L1582.2,332.4 L1587.0,331.5 L1591.9,330.6 L1596.8,329.6 L1601.7,328.7 L1606.5,327.8 L1611.4,326.9 L1616.3,326.0 L1621.1,325.1 L1626.0,324.3 L1630.9,323.4 L1635.8,322.5 L1640.6,321.7 L1645.5,320.8 L1650.4,320.0 L1655.3,319.2 L1660.1,318.3 L1665.0,317.5 L1669.9,316.7 L1674.7,315.9 L1679.6,315.1 L1684.5,314.3 L1689.4,313.6 L1694.2,312.8 L1699.1,312.0 L1704.0,311.3 L1708.9,310.5 L1713.7,309.8 L1718.6,309.0 L1723.5,308.3 L1728.3,307.6 L1733.2,306.8 L1738.1,306.1 L1743.0,305.4 L1747.8,304.7 L1752.7,304.0 L1757.6,303.3 L1762.4,302.6 L1767.3,302.0 L1772.2,301.3 L1777.1,300.6 L1781.9,300.0 L1786.8,299.3 L1791.7,298.6 L1796.6,298.0 L1801.4,297.4 L1806.3,296.7 L1811.2,296.1 L1816.0,295.5 L1820.9,294.9 L1825.8,294.2 L1830.7,293.6 L1835.5,293.0 L1840.4,292.4 L1845.3,291.8 L1850.1,291.3 L1855.0,290.7 L1859.9,290.1 L1864.8,289.5 L1869.6,288.9 L1874.5,288.4 L1879.4,287.8 L1884.3,287.3 L1889.1,286.7 L1894.0,286.2 L1898.9,285.6 L1903.7,285.1 L1908.6,284.6 L1913.5,284.0 L1918.4,283.5 L1923.2,283.0 L1928.1,282.5 L1933.0,282.0 L1937.8,281.4 L1942.7,280.9 L1947.6,280.4 L1952.5,279.9 L1957.3,279.5 L1962.2,279.0 L1967.1,278.5 L1972.0,278.0 L1976.8,277.5 L1981.7,277.0 L1986.6,276.6 L1991.4,276.1 L1996.3,275.7 L2001.2,275.2 L2006.1,274.7 L2010.9,274.3 L2015.8,273.8 L2020.7,273.4 L2025.6,272.9 L2030.4,272.5 L2035.3,272.1 L2040.2,271.6 L2045.0,271.2 L2049.9,270.8 L2054.8,270.4 L2059.7,270.0 L2064.5,269.5 L2069.4,269.1 L2074.3,268.7 L2079.1,268.3 L2084.0,267.9 L2088.9,267.5 L2093.8,267.1 L2098.6,266.7 L2103.5,266.3 L2108.4,265.9 L2113.3,265.5 L2118.1,265.2 L2123.0,264.8 L2127.9,264.4 L2132.7,264.0 L2137.6,263.7 L2142.5,263.3 L2147.4,262.9 L2152.2,262.6 L2157.1,262.2 L2162.0,261.8 L2166.8,261.5 L2171.7,261.1 L2176.6,260.8 L2181.5,260.4 L2186.3,260.1 L2191.2,259.8 L2196.1,259.4 L2201.0,259.1 L2205.8,258.7 L2210.7,258.4 L2215.6,258.1 L2220.4,257.7 L2225.3,257.4 L2230.2,257.1 L2235.1,256.8 L2239.9,256.5 L2244.8,256.1 L2249.7,255.8 L2254.5,255.5 L2259.4,255.2 L2264.3,254.9 L2269.2,254.6 L2274.0,254.3 L2278.9,254.0 L2283.8,253.7 L2288.7,253.4 L2293.5,253.1 L2298.4,252.8"/>
<path d="M322.1,1992.5 L322.9,1978.3 L323.7,1967.5 L324.5,1958.4 L325.4,1950.3 L326.2,1943.0 L327.0,1936.2 L327.9,1929.9 L328.7,1924.0 L329.5,1918.3 L330.3,1913.0 L331.2,1907.9 L332.0,1902.9 L332.8,1898.2 L333.7,1893.6 L334.5,1889.2 L335.3,1884.8 L336.1,1880.7 L337.0,1876.6 L337.8,1872.6 L338.6,1868.8 L339.4,1865.0 L340.3,1861.3 L341.1,1857.7 L341.9,1854.1 L342.8,1850.7 L343.6,1847.3 L344.4,1843.9 L345.2,1840.6 L346.1,1837.4 L346.9,1834.2 L347.7,1831.1 L348.6,1828.0 L349.4,1825.0 L350.2,1822.0 L351.0,1819.1 L351.9,1816.2 L352.7,1813.3 L353.5,1810.5 L354.3,1807.7 L359.2,1792.0 L364.1,1777.3 L369.0,1763.5 L373.8,1750.3 L378.7,1737.8 L383.6,1725.9 L388.5,1714.5 L393.3,1703.4 L398.2,1692.8 L403.1,1682.6 L407.9,1672.7 L412.8,1663.1 L417.7,1653.8 L422.6,1644.7 L427.4,1635.9 L432.3,1627.3 L437.2,1618.9 L442.1,1610.8 L446.9,1602.8 L451.8,1595.0 L456.7,1587.3 L461.5,1579.9 L466.4,1572.5 L471.3,1565.4 L476.2,1558.3 L481.0,1551.4 L485.9,1544.6 L490.8,1538.0 L495.6,1531.4 L500.5,1525.0 L505.4,1518.7 L510.3,1512.4 L515.1,1506.3 L520.0,1500.3 L524.9,1494.3 L529.8,1488.5 L534.6,1482.7 L539.5,1477.0 L544.4,1471.4 L549.2,1465.9 L554.1,1460.4 L559.0,1455.1 L563.9,1449.8 L568.7,1444.5 L573.6,1439.3 L578.5,1434.2 L583.3,1429.2 L588.2,1424.2 L593.1,1419.3 L598.0,1414.4 L602.8,1409.6 L607.7,1404.8 L612.6,1400.1 L617.5,1395.5 L622.3,1390.9 L627.2,1386.3 L632.1,1381.8 L636.9,1377.3 L641.8,1372.9 L646.7,1368.6 L651.6,1364.3 L656.4,1360.0 L661.3,1355.7 L666.2,1351.5 L671.0,1347.4 L675.9,1343.3 L680.8,1339.2 L685.7,1335.2 L690.5,1331.2 L695.4,1327.2 L700.3,1323.3 L705.2,1319.4 L710.0,1315.5 L714.9,1311.7 L719.8,1307.9 L724.6,1304.2 L729.5,1300.5 L734.4,1296.8 L739.3,1293.1 L744.1,1289.5 L749.0,1285.9 L753.9,1282.3 L758.8,1278.8 L763.6,1275.2 L768.5,1271.8 L773.4,1268.3 L778.2,1264.9 L783.1,1261.5 L788.0,1258.1 L792.9,1254.7 L797.7,1251.4 L802.6,1248.1 L807.5,1244.8 L812.3,1241.6 L817.2,1238.3 L822.1,1235.1 L827.0,1231.9 L831.8,1228.8 L836.7,1225.7 L841.6,1222.5 L846.5,1219.4 L851.3,1216.4 L856.2,1213.3 L861.1,1210.3 L865.9,1207.3 L870.8,1204.3 L875.7,1201.3 L880.6,1198.4 L885.4,1195.4 L890.3,1192.5 L895.2,1189.6 L900.0,1186.8 L904.9,1183.9 L909.8,1181.1 L914.7,1178.3 L919.5,1175.5 L924.4,1172.7 L929.3,1169.9 L934.2,1167.2 L939.0,1164.4 L943.9,1161.7 L948.8,1159.0 L953.6,1156.4 L958.5,1153.7 L963.4,1151.0 L968.3,1148.4 L973.1,1145.8 L978.0,1143.2 L982.9,1140.6 L987.7,1138.0 L992.6,1135.5 L997.5,1132.9 L1002.4,1130.4 L1007.2,1127.9 L1012.1,1125.4 L1017.0,1122.9 L1021.9,1120.5 L1026.7,1118.0 L1031.6,1115.6 L1036.5,1113.1 L1041.3,1110.7 L1046.2,1108.3 L1051.1,1105.9 L1056.0,1103.6 L1060.8,1101.2 L1065.7,1098.8 L1070.6,1096.5 L1075.5,1094.2 L1080.3,1091.9 L1085.2,1089.6 L1090.1,1087.3 L1094.9,1085.0 L1099.8,1082.7 L1104.7,1080.5 L1109.6,1078.3 L1114.4,1076.0 L1119.3,1073.8 L1124.2,1071.6 L1129.0,1069.4 L1133.9,1067.2 L1138.8,1065.0 L1143.7,1062.9 L1148.5,1060.7 L1153.4,1058.6 L1158.3,1056.5 L1163.2,1054.3 L1168.0,1052.2 L1172.9,1050.1 L1177.8,1048.0 L1182.6,1046.0 L1187.5,1043.9 L1192.4,1041.8 L1197.3,1039.8 L1202.1,1037.7 L1207.0,1035.7 L1211.9,1033.7 L1216.7,1031.7 L1221.6,1029.7 L1226.5,1027.7 L1231.4,1025.7 L1236.2,1023.7 L1241.1,1021.8 L1246.0,1019.8 L1250.9,1017.9 L1255.7,1015.9 L1260.6,1014.0 L1265.5,1012.1 L1270.3,1010.2 L1275.2,1008.3 L1280.1,1006.4 L1285.0,1004.5 L1289.8,1002.6 L1294.7,1000.7 L1299.6,998.9 L1304.4,997.0 L1309.3,995.2 L1314.2,993.3 L1319.1,991.5 L1323.9,989.7 L1328.8,987.9 L1333.7,986.1 L1338.6,984.3 L1343.4,982.5 L1348.3,980.7 L1353.2,978.9 L1358.0,977.2 L1362.9,975.4 L1367.8,973.6 L1372.7,971.9 L1377.5,970.2 L1382.4,968.4 L1387.3,966.7 L1392.2,965.0 L1397.0,963.3 L1401.9,961.6 L1406.8,959.9 L1411.6,958.2 L1416.5,956.5 L1421.4,954.8 L1426.3,953.2 L1431.1,951.5 L1436.0,949.8 L1440.9,948.2 L1445.7,946.6 L1450.6,944.9 L1455.5,943.3 L1460.4,941.7 L1465.2,940.1 L1470.1,938.4 L1475.0,936.8 L1479.9,935.2 L1484.7,933.7 L1489.6,932.1 L1494.5,930.5 L1499.3,928.9 L1504.2,927.4 L1509.1,925.8 L1514.0,924.2 L1518.8,922.7 L1523.7,921.1 L1528.6,919.6 L1533.4,918.1 L1538.3,916.6 L1543.2,915.0 L1548.1,913.5 L1552.9,912.0 L1557.8,910.5 L1562.7,909.0 L1567.6,907.5 L1572.4,906.0 L1577.3,904.6 L1582.2,903.1 L1587.0,901.6 L1591.9,900.1 L1596.8,898.7 L1601.7,897.2 L1606.5,895.8 L1611.4,894.3 L1616.3,892.9 L1621.1,891.5 L1626.0,890.0 L1630.9,888.6 L1635.8,887.2 L1640.6,885.8 L1645.5,884.4 L1650.4,883.0 L1655.3,881.6 L1660.1,880.2 L1665.0,878.8 L1669.9,877.4 L1674.7,876.0 L1679.6,874.7 L1684.5,873.3 L1689.4,871.9 L1694.2,870.6 L1699.1,869.2 L1704.0,867.9 L1708.9,866.5 L1713.7,865.2 L1718.6,863.9 L1723.5,862.5 L1728.3,861.2 L1733.2,859.9 L1738.1,858.6 L1743.0,857.2 L1747.8,855.9 L1752.7,854.6 L1757.6,853.3 L1762.4,852.0 L1767.3,850.7 L1772.2,849.5 L1777.1,848.2 L1781.9,846.9 L1786.8,845.6 L1791.7,844.3 L1796.6,843.1 L1801.4,841.8 L1806.3,840.6 L1811.2,839.3 L1816.0,838.1 L1820.9,836.8 L1825.8,835.6 L1830.7,834.3 L1835.5,833.1 L1840.4,831.9 L1845.3,830.6 L1850.1,829.4 L1855.0,828.2 L1859.9,827.0 L1864.8,825.8 L1869.6,824.6 L1874.5,823.4 L1879.4,822.2 L1884.3,821.0 L1889.1,819.8 L1894.0,818.6 L1898.9,817.4 L1903.7,816.2 L1908.6,815.1 L1913.5,813.9 L1918.4,812.7 L1923.2,811.6 L1928.1,810.4 L1933.0,809.2 L1937.8,808.1 L1942.7,806.9 L1947.6,805.8 L1952.5,804.6 L1957.3,803.5 L1962.2,802.4 L1967.1,801.2 L1972.0,800.1 L1976.8,799.0 L1981.7,797.9 L1986.6,796.7 L1991.4,795.6 L1996.3,794.5 L2001.2,793.4 L2006.1,792.3 L2010.9,791.2 L2015.8,790.1 L2020.7,789.0 L2025.6,787.9 L2030.4,786.8 L2035.3,785.7 L2040.2,784.6 L2045.0,783.6 L2049.9,782.5 L2054.8,781.4 L2059.7,780.3 L2064.5,779.3 L2069.4,778.2 L2074.3,777.2 L2079.1,776.1 L2084.0,775.0 L2088.9,774.0 L2093.8,772.9 L2098.6,771.9 L2103.5,770.8 L2108.4,769.8 L2113.3,768.8 L2118.1,767.7 L2123.0,766.7 L2127.9,765.7 L2132.7,764.7 L2137.6,763.6 L2142.5,762.6 L2147.4,761.6 L2152.2,760.6 L2157.1,759.6 L2162.0,758.6 L2166.8,757.6 L2171.7,756.6 L2176.6,755.6 L2181.5,754.6 L2186.3,753.6 L2191.2,752.6 L2196.1,751.6 L2201.0,750.6 L2205.8,749.6 L2210.7,748.6 L2215.6,747.7 L2220.4,746.7 L2225.3,745.7 L2230.2,744.8 L2235.1,743.8 L2239.9,742.8 L2244.8,741.9 L2249.7,740.9 L2254.5,740.0 L2259.4,739.0 L2264.3,738.1 L2269.2,737.1 L2274.0,736.2 L2278.9,735.2 L2283.8,734.3 L2288.7,733.3 L2293.5,732.4 L2298.4,731.5"/>
</g>
<g stroke="#000" stroke-width="1.50" fill="none">
<line x1="321.4" y1="2017.5" x2="321.4" y2="1928"/>
<line x1="293.4" y1="1928" x2="349.4" y2="1928"/>
<line x1="420.0" y1="1526.7" x2="420.0" y2="1254.5"/>
<line x1="392.0" y1="1254.5" x2="448.0" y2="1254.5"/>
<line x1="392.0" y1="1291.5" x2="448.0" y2="1291.5"/>
<line x1="392.0" y1="1293.5" x2="448.0" y2="1293.5"/>
<line x1="392.0" y1="1299.2" x2="448.0" y2="1299.2"/>
<line x1="392.0" y1="1360.2" x2="448.0" y2="1360.2"/>
<line x1="392.0" y1="1420.6" x2="448.0" y2="1420.6"/>
<line x1="517.5" y1="1129" x2="517.5" y2="831.2"/>
<line x1="489.5" y1="831.2" x2="545.5" y2="831.2"/>
<line x1="489.5" y1="921.2" x2="545.5" y2="921.2"/>
<line x1="489.5" y1="959.7" x2="545.5" y2="959.7"/>
<line x1="489.5" y1="966.4" x2="545.5" y2="966.4"/>
<line x1="489.5" y1="1039.7" x2="545.5" y2="1039.7"/>
<line x1="649.2" y1="763.7" x2="649.2" y2="443.7"/>
<line x1="621.2" y1="443.7" x2="677.2" y2="443.7"/>
<line x1="621.2" y1="511.3" x2="677.2" y2="511.3"/>
<line x1="621.2" y1="559.2" x2="677.2" y2="559.2"/>
<line x1="621.2" y1="578.3" x2="677.2" y2="578.3"/>
<line x1="621.2" y1="604.1" x2="677.2" y2="604.1"/>
<line x1="979.5" y1="545.8" x2="979.5" y2="316"/>
<line x1="951.5" y1="316" x2="1007.5" y2="316"/>
<line x1="951.5" y1="395.6" x2="1007.5" y2="395.6"/>
<line x1="951.5" y1="434.9" x2="1007.5" y2="434.9"/>
<line x1="951.5" y1="437" x2="1007.5" y2="437"/>
<line x1="951.5" y1="472.8" x2="1007.5" y2="472.8"/>
<line x1="1309.9" y1="319.3" x2="1309.9" y2="248.4"/>
<line x1="1309.9" y1="453.1" x2="1309.9" y2="357.3"/>
<line x1="1281.9" y1="248.4" x2="1337.9" y2="248.4"/>
<line x1="1281.9" y1="357.3" x2="1337.9" y2="357.3"/>
<line x1="1281.9" y1="376.7" x2="1337.9" y2="376.7"/>
<line x1="1281.9" y1="398.6" x2="1337.9" y2="398.6"/>
<line x1="1637.3" y1="274.9" x2="1637.3" y2="219.8"/>
<line x1="1637.3" y1="387.6" x2="1637.3" y2="280.4"/>
<line x1="1609.3" y1="219.8" x2="1665.3" y2="219.8"/>
<line x1="1609.3" y1="280.4" x2="1665.3" y2="280.4"/>
<line x1="1609.3" y1="290.3" x2="1665.3" y2="290.3"/>
<line x1="1609.3" y1="318.8" x2="1665.3" y2="318.8"/>
<line x1="1609.3" y1="351" x2="1665.3" y2="351"/>
<line x1="1967.6" y1="307.5" x2="1967.6" y2="213.5"/>
<line x1="1939.6" y1="213.5" x2="1995.6" y2="213.5"/>
<line x1="1939.6" y1="220" x2="1995.6" y2="220"/>
<line x1="1939.6" y1="242.5" x2="1995.6" y2="242.5"/>
<line x1="1939.6" y1="280.5" x2="1995.6" y2="280.5"/>
<line x1="1939.6" y1="290.5" x2="1995.6" y2="290.5"/>
<line x1="2298.5" y1="256.5" x2="2298.5" y2="203.9"/>
<line x1="2270.5" y1="203.9" x2="2326.5" y2="203.9"/>
<line x1="2270.5" y1="219.9" x2="2326.5" y2="219.9"/>
<line x1="2270.5" y1="229.4" x2="2326.5" y2="229.4"/>
<line x1="2270.5" y1="238.8" x2="2326.5" y2="238.8"/>
<line x1="2270.5" y1="254.8" x2="2326.5" y2="254.8"/>
<line x1="420.0" y1="1693.7" x2="420.0" y2="1622.8"/>
<line x1="392.0" y1="1622.8" x2="448.0" y2="1622.8"/>
<line x1="517.5" y1="1477.8" x2="517.5" y2="1388.4"/>
<line x1="489.5" y1="1388.4" x2="545.5" y2="1388.4"/>
<line x1="649.2" y1="1294.9" x2="649.2" y2="1187.5"/>
<line x1="621.2" y1="1187.5" x2="677.2" y2="1187.5"/>
<line x1="979.5" y1="1152.3" x2="979.5" y2="1062.4"/>
<line x1="951.5" y1="1062.4" x2="1007.5" y2="1062.4"/>
<line x1="1309.9" y1="1001.2" x2="1309.9" y2="876.4"/>
<line x1="1281.9" y1="876.4" x2="1337.9" y2="876.4"/>
<line x1="1637.3" y1="889" x2="1637.3" y2="780.5"/>
<line x1="1609.3" y1="780.5" x2="1665.3" y2="780.5"/>
<line x1="1967.6" y1="833.5" x2="1967.6" y2="741.9"/>
<line x1="1939.6" y1="741.9" x2="1995.6" y2="741.9"/>
<line x1="2298.5" y1="735.5" x2="2298.5" y2="646"/>
<line x1="2270.5" y1="646" x2="2326.5" y2="646"/>
</g>
<path fill-rule="evenodd" fill="#000" d="M405.3,1368.9H434.7V1395.9H405.3Z M409.3,1370.5V1394.3H430.7V1370.5Z"/>
<path fill-rule="evenodd" fill="#000" d="M504.0,981.7H531.0V1008.7H504.0Z M507.2,984.4V1006.0H527.8V984.4Z"/>
<path fill-rule="evenodd" fill="#000" d="M634.5,592.2H663.9V619.2H634.5Z M639.3,596.7V614.7H659.1V596.7Z"/>
<path fill-rule="evenodd" fill="#000" d="M966.0,391.9H993.0V418.9H966.0Z M967.6,393.8V417.0H991.4V393.8Z"/>
<path fill-rule="evenodd" fill="#000" d="M1296.4,305.8H1323.4V332.8H1296.4Z M1298.4,307.8V330.8H1321.4V307.8Z"/>
<path fill-rule="evenodd" fill="#000" d="M1623.8,261.4H1650.8V288.4H1623.8Z M1626.4,262.7V287.1H1648.2V262.7Z"/>
<path fill-rule="evenodd" fill="#000" d="M1954.1,220.5H1981.1V247.5H1954.1Z M1955.9,222.0V246.0H1979.3V222.0Z"/>
<path fill-rule="evenodd" fill="#000" d="M2285.0,206.1H2312.0V233.1H2285.0Z M2286.5,207.8V231.4H2310.5V207.8Z"/>
<rect x="307.9" y="2004.5" width="27.0" height="26.0" fill="#000"/>
<rect x="405.3" y="1430.3" width="29.4" height="26.0" fill="#000"/>
<rect x="504.0" y="1017.1" width="27.0" height="26.0" fill="#000"/>
<rect x="634.5" y="642.2" width="29.4" height="26.0" fill="#000"/>
<rect x="966.0" y="437.6" width="27.0" height="26.0" fill="#000"/>
<rect x="1296.4" y="382.8" width="27.0" height="26.0" fill="#000"/>
<rect x="1623.8" y="286.2" width="27.0" height="26.0" fill="#000"/>
<rect x="1954.1" y="245.2" width="27.0" height="26.0" fill="#000"/>
<rect x="2285.0" y="216.5" width="27.0" height="26.0" fill="#000"/>
<path d="M420.0,1465.1 L432.1,1484.9 L407.9,1484.9 Z" fill="none" stroke="#000" stroke-width="3.0" stroke-linejoin="miter" stroke-miterlimit="10"/>
<path d="M517.5,1058.7 L528.5,1078.5 L506.6,1078.5 Z" fill="none" stroke="#000" stroke-width="3.0" stroke-linejoin="miter" stroke-miterlimit="10"/>
<path d="M649.2,691.8 L661.4,711.6 L637.0,711.6 Z" fill="none" stroke="#000" stroke-width="3.0" stroke-linejoin="miter" stroke-miterlimit="10"/>
<path d="M979.5,477.4 L990.5,497.2 L968.5,497.2 Z" fill="none" stroke="#000" stroke-width="3.0" stroke-linejoin="miter" stroke-miterlimit="10"/>
<path d="M1309.9,386.7 L1320.9,406.5 L1299.0,406.5 Z" fill="none" stroke="#000" stroke-width="3.0" stroke-linejoin="miter" stroke-miterlimit="10"/>
<path d="M1637.3,313.0 L1648.2,332.8 L1626.3,332.8 Z" fill="none" stroke="#000" stroke-width="3.0" stroke-linejoin="miter" stroke-miterlimit="10"/>
<path d="M1967.6,273.3 L1978.5,293.1 L1956.6,293.1 Z" fill="none" stroke="#000" stroke-width="3.0" stroke-linejoin="miter" stroke-miterlimit="10"/>
<path d="M2298.5,246.7 L2309.4,266.5 L2287.6,266.5 Z" fill="none" stroke="#000" stroke-width="3.0" stroke-linejoin="miter" stroke-miterlimit="10"/>
<path d="M405.3,1474.8 L434.7,1474.8 L420.0,1497.8 Z" fill="#000"/>
<path d="M504.0,1078.2 L531.0,1078.2 L517.5,1101.2 Z" fill="#000"/>
<path d="M634.5,709.5 L663.9,709.5 L649.2,732.5 Z" fill="#000"/>
<path d="M966.0,498.8 L993.0,498.8 L979.5,521.8 Z" fill="#000"/>
<path d="M1296.4,422.2 L1323.4,422.2 L1309.9,445.2 Z" fill="#000"/>
<path d="M1623.8,376.1 L1650.8,376.1 L1637.3,399.1 Z" fill="#000"/>
<path d="M1954.1,296.0 L1981.1,296.0 L1967.6,319.0 Z" fill="#000"/>
<path d="M2285.0,245.0 L2312.0,245.0 L2298.5,268.0 Z" fill="#000"/>
<ellipse cx="420.0" cy="1526.7" rx="13.5" ry="12.3" fill="none" stroke="#000" stroke-width="2.3"/>
<ellipse cx="517.5" cy="1129.0" rx="12.3" ry="12.3" fill="none" stroke="#000" stroke-width="2.3"/>
<ellipse cx="649.2" cy="763.7" rx="13.5" ry="12.3" fill="none" stroke="#000" stroke-width="2.3"/>
<ellipse cx="979.5" cy="545.8" rx="12.3" ry="12.3" fill="none" stroke="#000" stroke-width="2.3"/>
<ellipse cx="1309.9" cy="453.1" rx="12.3" ry="12.3" fill="none" stroke="#000" stroke-width="2.3"/>
<ellipse cx="1637.3" cy="360.4" rx="12.3" ry="12.3" fill="none" stroke="#000" stroke-width="2.3"/>
<ellipse cx="1967.6" cy="290.0" rx="12.3" ry="12.3" fill="none" stroke="#000" stroke-width="2.3"/>
<ellipse cx="2298.5" cy="247.0" rx="12.3" ry="12.3" fill="none" stroke="#000" stroke-width="2.3"/>
<ellipse cx="420.0" cy="1693.7" rx="14.7" ry="14.0" fill="#000"/>
<ellipse cx="517.5" cy="1477.8" rx="14.0" ry="14.0" fill="#000"/>
<ellipse cx="649.2" cy="1294.9" rx="14.7" ry="15.0" fill="#000"/>
<ellipse cx="979.5" cy="1152.3" rx="14.0" ry="14.0" fill="#000"/>
<ellipse cx="1309.9" cy="1001.2" rx="14.0" ry="14.0" fill="#000"/>
<ellipse cx="1637.3" cy="889.0" rx="14.0" ry="14.0" fill="#000"/>
<ellipse cx="1967.6" cy="833.5" rx="14.0" ry="14.0" fill="#000"/>
<ellipse cx="2298.5" cy="735.5" rx="14.0" ry="14.0" fill="#000"/>
<g stroke="#000" stroke-width="11" stroke-linecap="round" fill="none">
<line x1="270.5" y1="2017.5" x2="321.5" y2="2017.5"/>
<line x1="295.5" y1="1837.7" x2="321.5" y2="1837.7"/>
<line x1="270.5" y1="1657.9" x2="321.5" y2="1657.9"/>
<line x1="295.5" y1="1478.1" x2="321.5" y2="1478.1"/>
<line x1="270.5" y1="1298.3" x2="321.5" y2="1298.3"/>
<line x1="295.5" y1="1118.5" x2="321.5" y2="1118.5"/>
<line x1="270.5" y1="938.7" x2="321.5" y2="938.7"/>
<line x1="295.5" y1="758.9" x2="321.5" y2="758.9"/>
<line x1="270.5" y1="579.1" x2="321.5" y2="579.1"/>
<line x1="295.5" y1="399.3" x2="321.5" y2="399.3"/>
<line x1="270.5" y1="219.5" x2="321.5" y2="219.5"/>
<line x1="295.5" y1="40.5" x2="321.5" y2="40.5"/>
<line x1="483.6" y1="2017.5" x2="483.6" y2="2043.0"/>
<line x1="648.4" y1="2017.5" x2="648.4" y2="2068.5"/>
<line x1="813.2" y1="2017.5" x2="813.2" y2="2043.0"/>
<line x1="977.9" y1="2017.5" x2="977.9" y2="2068.5"/>
<line x1="1142.7" y1="2017.5" x2="1142.7" y2="2043.0"/>
<line x1="1307.4" y1="2017.5" x2="1307.4" y2="2068.5"/>
<line x1="1472.2" y1="2017.5" x2="1472.2" y2="2043.0"/>
<line x1="1636.9" y1="2017.5" x2="1636.9" y2="2068.5"/>
<line x1="1801.7" y1="2017.5" x2="1801.7" y2="2043.0"/>
<line x1="1966.4" y1="2017.5" x2="1966.4" y2="2068.5"/>
<line x1="2131.2" y1="2017.5" x2="2131.2" y2="2043.0"/>
</g>
<g stroke="#000" stroke-width="11" fill="none">
<path d="M321.5,2068.5 L321.5,40.5 L2298.5,40.5 L2298.5,2068.5" stroke-linejoin="round"/>
<line x1="321.5" y1="2017.5" x2="2298.5" y2="2017.5"/>
</g>
<g stroke="#000" stroke-width="11" stroke-linecap="round"><line x1="321.5" y1="2068.5" x2="321.5" y2="2068.6"/><line x1="2298.5" y1="2068.5" x2="2298.5" y2="2068.6"/></g>
<text transform="translate(242.0,2040.3) scale(0.928,1)" font-family="&quot;Liberation Sans&quot;, Arial, sans-serif" font-weight="bold" font-size="68.5" text-anchor="end" >0</text>
<text transform="translate(242.0,1680.7) scale(0.928,1)" font-family="&quot;Liberation Sans&quot;, Arial, sans-serif" font-weight="bold" font-size="68.5" text-anchor="end" >20</text>
<text transform="translate(242.0,1321.1) scale(0.928,1)" font-family="&quot;Liberation Sans&quot;, Arial, sans-serif" font-weight="bold" font-size="68.5" text-anchor="end" >40</text>
<text transform="translate(242.0,961.5) scale(0.928,1)" font-family="&quot;Liberation Sans&quot;, Arial, sans-serif" font-weight="bold" font-size="68.5" text-anchor="end" >60</text>
<text transform="translate(242.0,601.9) scale(0.928,1)" font-family="&quot;Liberation Sans&quot;, Arial, sans-serif" font-weight="bold" font-size="68.5" text-anchor="end" >80</text>
<text transform="translate(242.0,242.3) scale(0.928,1)" font-family="&quot;Liberation Sans&quot;, Arial, sans-serif" font-weight="bold" font-size="68.5" text-anchor="end" >100</text>
<text transform="translate(322.4,2155.0) scale(0.928,1)" font-family="&quot;Liberation Sans&quot;, Arial, sans-serif" font-weight="bold" font-size="68.5" text-anchor="middle" >0</text>
<text transform="translate(649.4,2155.0) scale(0.928,1)" font-family="&quot;Liberation Sans&quot;, Arial, sans-serif" font-weight="bold" font-size="68.5" text-anchor="middle" >10</text>
<text transform="translate(978.9,2155.0) scale(0.928,1)" font-family="&quot;Liberation Sans&quot;, Arial, sans-serif" font-weight="bold" font-size="68.5" text-anchor="middle" >20</text>
<text transform="translate(1308.4,2155.0) scale(0.928,1)" font-family="&quot;Liberation Sans&quot;, Arial, sans-serif" font-weight="bold" font-size="68.5" text-anchor="middle" >30</text>
<text transform="translate(1637.9,2155.0) scale(0.928,1)" font-family="&quot;Liberation Sans&quot;, Arial, sans-serif" font-weight="bold" font-size="68.5" text-anchor="middle" >40</text>
<text transform="translate(1967.4,2155.0) scale(0.928,1)" font-family="&quot;Liberation Sans&quot;, Arial, sans-serif" font-weight="bold" font-size="68.5" text-anchor="middle" >50</text>
<text transform="translate(2299.5,2155.0) scale(0.928,1)" font-family="&quot;Liberation Sans&quot;, Arial, sans-serif" font-weight="bold" font-size="68.5" text-anchor="middle" >60</text>
<text transform="translate(1293.0,2267.3) scale(0.94,1)" font-family="&quot;Liberation Sans&quot;, Arial, sans-serif" font-weight="bold" font-size="84" text-anchor="middle" >Time (min)</text>
<text transform="translate(81,1025.5) rotate(-90) scale(0.954,1)" font-family="&quot;Liberation Sans&quot;, Arial, sans-serif" font-weight="bold" font-size="84" text-anchor="middle">Drug released (%)</text>
<path fill-rule="evenodd" fill="#000" d="M1787.0,1436.0H1834.0V1479.9H1787.0Z M1791.7,1437.8V1478.2H1829.2V1437.8Z"/>
<rect x="1787.0" y="1523.1" width="47.0" height="45.7" fill="#000"/>
<path d="M1810.5,1620.1 L1830.0,1653.7 L1790.9,1653.7 Z" fill="none" stroke="#000" stroke-width="4.6" stroke-linejoin="miter" stroke-miterlimit="10"/>
<path d="M1787.0,1705.9 L1834.0,1705.9 L1810.5,1742.0 Z" fill="#000"/>
<ellipse cx="1810.5" cy="1814.5" rx="21.4" ry="19.4" fill="none" stroke="#000" stroke-width="4.2"/>
<ellipse cx="1810.5" cy="1901.9" rx="23.5" ry="23.0" fill="#000"/>
<text y="1481.9" font-family="&quot;Liberation Sans&quot;, Arial, sans-serif" font-weight="bold" font-size="67.8"><tspan x="1977.45" font-style="italic">Z</tspan><tspan x="2034.5">=</tspan><tspan x="2093.45">35</tspan></text>
<text y="1568.7" font-family="&quot;Liberation Sans&quot;, Arial, sans-serif" font-weight="bold" font-size="67.8"><tspan x="1977.45" font-style="italic">Z</tspan><tspan x="2034.5">=</tspan><tspan x="2093.45">30</tspan></text>
<text y="1658.4" font-family="&quot;Liberation Sans&quot;, Arial, sans-serif" font-weight="bold" font-size="67.8"><tspan x="1977.45" font-style="italic">Z</tspan><tspan x="2034.5">=</tspan><tspan x="2094.6">25</tspan></text>
<text y="1747.5" font-family="&quot;Liberation Sans&quot;, Arial, sans-serif" font-weight="bold" font-size="67.8"><tspan x="1977.45" font-style="italic">Z</tspan><tspan x="2034.5">=</tspan><tspan x="2094.6">20</tspan></text>
<text y="1837.2" font-family="&quot;Liberation Sans&quot;, Arial, sans-serif" font-weight="bold" font-size="67.8"><tspan x="1977.45" font-style="italic">Z</tspan><tspan x="2031.9">=</tspan><tspan x="2090.2">15</tspan></text>
<text x="1973.8" y="1924.1" font-family="&quot;Liberation Sans&quot;, Arial, sans-serif" font-weight="bold" font-size="67.8">raw BDP</text>
</svg>
</body></html>
